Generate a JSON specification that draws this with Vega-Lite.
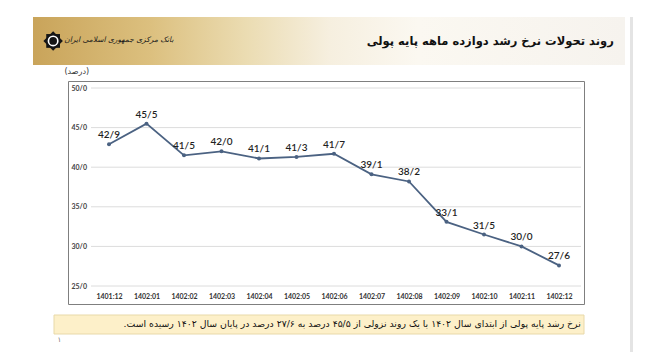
{
  "$schema": "https://vega.github.io/schema/vega-lite/v6.json",
  "padding": {"left": 33, "top": 17, "right": 0, "bottom": 0},
  "background": "white",
  "config": {
    "view": {"stroke": null},
    "font": "Lato",
    "locale": {"number": {"decimal": "/", "thousands": ",", "grouping": [3], "currency": ["", ""]}}
  },
  "datasets": {
    "m2": [
      {"month": "1401:12", "growth": 42.9},
      {"month": "1402:01", "growth": 45.5},
      {"month": "1402:02", "growth": 41.5},
      {"month": "1402:03", "growth": 42.0},
      {"month": "1402:04", "growth": 41.1},
      {"month": "1402:05", "growth": 41.3},
      {"month": "1402:06", "growth": 41.7},
      {"month": "1402:07", "growth": 39.1},
      {"month": "1402:08", "growth": 38.2},
      {"month": "1402:09", "growth": 33.1},
      {"month": "1402:10", "growth": 31.5},
      {"month": "1402:11", "growth": 30.0},
      {"month": "1402:12", "growth": 27.6}
    ],
    "grid": [{"level": 25}, {"level": 30}, {"level": 35}, {"level": 40}, {"level": 45}, {"level": 50}],
    "header": [{"title": "روند تحولات نرخ رشد دوازده ماهه پایه پولی", "bank": "بانک مرکزی جمهوری اسلامی ایران", "unit": "(درصد)"}],
    "footer": [{"note": "نرخ رشد پایه پولی از ابتدای سال ۱۴۰۲ با یک روند نزولی از ۴۵/۵ درصد به ۲۷/۶ درصد در پایان سال ۱۴۰۲ رسیده است.\u200f", "page": "۱"}]
  },
  "hconcat": [
    {
      "vconcat": [
        {
          "width": 592,
          "height": 63,
          "data": {"name": "header"},
          "layer": [
            {
              "mark": {"type": "rect", "fill": {"gradient": "linear", "x1": 0, "x2": 1, "y1": 0, "y2": 0, "stops": [
                {"offset": 0, "color": "#c9a45a"},
                {"offset": 0.2, "color": "#dcc07f"},
                {"offset": 0.36, "color": "#ebdcb2"},
                {"offset": 0.5, "color": "#f6efdf"},
                {"offset": 0.65, "color": "#fbf8f1"},
                {"offset": 1, "color": "#f6f3ee"}
              ]}},
              "encoding": {
                "x": {"datum": 0, "type": "quantitative", "scale": {"domain": [0, 1], "zero": false, "nice": false}, "axis": null},
                "x2": {"datum": 1},
                "y": {"datum": 0.238, "type": "quantitative", "scale": {"domain": [0, 1], "zero": false, "nice": false}, "axis": null},
                "y2": {"datum": 1}
              }
            },
            {
              "mark": {"type": "point", "shape": "square", "filled": true, "size": 190, "color": "#151515", "opacity": 1},
              "encoding": {"x": {"datum": 0.034, "type": "quantitative", "axis": null}, "y": {"datum": 0.62, "type": "quantitative", "axis": null}}
            },
            {
              "mark": {"type": "point", "shape": "square", "angle": 45, "filled": true, "size": 190, "color": "#151515", "opacity": 1},
              "encoding": {"x": {"datum": 0.034, "type": "quantitative", "axis": null}, "y": {"datum": 0.62, "type": "quantitative", "axis": null}}
            },
            {
              "mark": {"type": "point", "shape": "circle", "filled": true, "size": 120, "color": "#ffffff", "opacity": 1},
              "encoding": {"x": {"datum": 0.034, "type": "quantitative", "axis": null}, "y": {"datum": 0.62, "type": "quantitative", "axis": null}}
            },
            {
              "mark": {"type": "point", "shape": "circle", "filled": true, "size": 60, "color": "#151515", "opacity": 1},
              "encoding": {"x": {"datum": 0.034, "type": "quantitative", "axis": null}, "y": {"datum": 0.62, "type": "quantitative", "axis": null}}
            },
            {
              "mark": {"type": "text", "font": "DejaVu Sans", "fontStyle": "italic", "fontSize": 7.5, "color": "#1a1a1a", "align": "center", "baseline": "middle"},
              "encoding": {"text": {"field": "bank"}, "x": {"datum": 0.145, "type": "quantitative", "axis": null}, "y": {"datum": 0.63, "type": "quantitative", "axis": null}}
            },
            {
              "mark": {"type": "text", "font": "DejaVu Sans", "fontWeight": "bold", "fontSize": 11.5, "color": "#111111", "align": "right", "baseline": "middle"},
              "encoding": {"text": {"field": "title"}, "x": {"datum": 0.981, "type": "quantitative", "axis": null}, "y": {"datum": 0.6, "type": "quantitative", "axis": null}}
            },
            {
              "mark": {"type": "text", "font": "DejaVu Sans", "fontSize": 8, "color": "#333333", "align": "center", "baseline": "middle"},
              "encoding": {"text": {"field": "unit"}, "x": {"datum": 0.074, "type": "quantitative", "axis": null}, "y": {"datum": 0.125, "type": "quantitative", "axis": null}}
            }
          ]
        },
        {
          "hconcat": [
            {"width": 34, "height": 10, "data": {"values": []}, "mark": "point", "encoding": {}, "view": {"stroke": null}},
            {
              "width": 516,
              "height": 223,
              "view": {"stroke": "#7f7f7f", "strokeWidth": 1, "fill": "white"},
              "layer": [
                {
                  "data": {"name": "grid"},
                  "mark": {"type": "rule", "color": "#dcdcdc", "strokeWidth": 1, "xOffset": -18, "x2Offset": 22},
                  "encoding": {
                    "x": {"datum": "1401:12", "type": "ordinal", "scale": {"type": "point", "range": [41, 491], "padding": 0},
                      "axis": {"title": null, "orient": "bottom", "domain": false, "ticks": false, "tickSize": 0, "grid": false, "labelPadding": -8, "labelBaseline": "middle", "labelAngle": 0, "labelFontSize": 7, "labelFontWeight": "bold", "labelColor": "#333333", "labelFont": "Lato"}},
                    "x2": {"datum": "1402:12"},
                    "y": {"field": "level", "type": "quantitative", "scale": {"domain": [25, 50], "range": [205, 7], "nice": false, "zero": false},
                      "axis": {"title": null, "orient": "left", "domain": false, "ticks": false, "tickSize": 0, "grid": false, "values": [25, 30, 35, 40, 45, 50], "format": ".1f", "labelAlign": "left", "labelPadding": -3, "labelBaseline": "middle", "labelFontSize": 7, "labelFontWeight": "bold", "labelColor": "#444444", "labelFont": "Lato"}}
                  }
                },
                {
                  "data": {"name": "m2"},
                  "mark": {"type": "line", "color": "#4b6282", "strokeWidth": 1.8},
                  "encoding": {
                    "x": {"field": "month", "type": "ordinal"},
                    "y": {"field": "growth", "type": "quantitative"}
                  }
                },
                {
                  "data": {"name": "m2"},
                  "mark": {"type": "point", "filled": true, "size": 16, "color": "#4b6282", "opacity": 1},
                  "encoding": {
                    "x": {"field": "month", "type": "ordinal"},
                    "y": {"field": "growth", "type": "quantitative"}
                  }
                },
                {
                  "data": {"name": "m2"},
                  "mark": {"type": "text", "fontSize": 10, "baseline": "bottom", "dy": -4, "color": "#1f1f1f", "font": "Lato", "fontWeight": 600},
                  "encoding": {
                    "x": {"field": "month", "type": "ordinal"},
                    "y": {"field": "growth", "type": "quantitative"},
                    "text": {"field": "growth", "type": "quantitative", "format": ".1f"}
                  }
                }
              ]
            }
          ],
          "spacing": 0
        },
        {
          "hconcat": [
            {"width": 20, "height": 10, "data": {"values": []}, "mark": "point", "encoding": {}, "view": {"stroke": null}},
            {
              "width": 530,
              "height": 29,
              "data": {"name": "footer"},
              "layer": [
                {
                  "mark": {"type": "rect", "fill": "#fdf0c9", "stroke": "#e8d9a9", "strokeWidth": 1},
                  "encoding": {
                    "x": {"datum": 0, "type": "quantitative", "scale": {"domain": [0, 1], "zero": false, "nice": false}, "axis": null},
                    "x2": {"datum": 1},
                    "y": {"datum": 0, "type": "quantitative", "scale": {"domain": [0, 1], "zero": false, "nice": false}, "axis": null},
                    "y2": {"datum": 0.655}
                  }
                },
                {
                  "mark": {"type": "text", "font": "DejaVu Sans", "fontSize": 9.3, "color": "#111111", "align": "right", "baseline": "middle"},
                  "encoding": {
                    "text": {"field": "note"},
                    "x": {"datum": 0.994, "type": "quantitative", "axis": null},
                    "y": {"datum": 0.33, "type": "quantitative", "axis": null}
                  }
                },
                {
                  "mark": {"type": "text", "font": "DejaVu Sans", "fontSize": 7, "color": "#777777", "align": "center", "baseline": "middle"},
                  "encoding": {
                    "text": {"field": "page"},
                    "x": {"datum": 0.01, "type": "quantitative", "axis": null},
                    "y": {"datum": -0.2, "type": "quantitative", "axis": null}
                  }
                }
              ]
            }
          ],
          "spacing": 0
        }
      ],
      "spacing": 0
    },
    {"width": 3, "height": 335, "view": {"fill": "#e4e4e4", "stroke": null}, "data": {"values": []}, "mark": "point", "encoding": {}}
  ],
  "spacing": 5
}
